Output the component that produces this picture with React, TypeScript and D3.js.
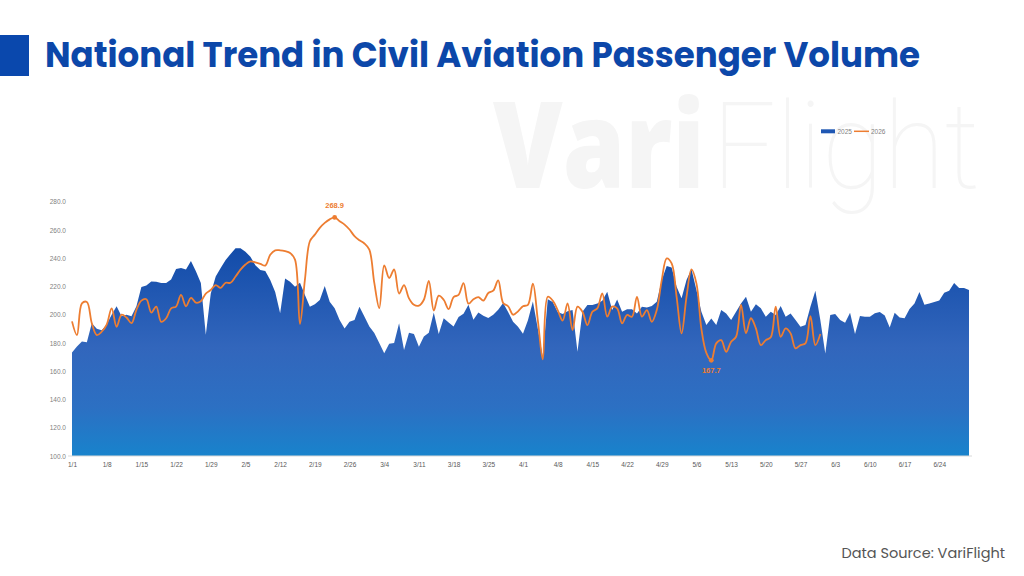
import React, { useRef, useEffect } from "react";
import * as d3 from "d3";

// Daily passenger volume (10k trips), Jan 1 – Jun 30
const volume2025 = [
  173.3, 177.5, 181, 180.6, 194, 190, 189, 193, 200, 206,
  199, 200, 199, 206, 219.6, 220.6, 223.6, 223.4, 222.5, 222.5,
  225, 232.4, 233, 232, 238, 230.7, 222.5, 185.8, 215, 227,
  233, 238.7, 243, 247, 247, 244.6, 241, 235, 231.6, 231,
  224.5, 216, 201, 225.7, 223.3, 219.8, 222.6, 214, 205.7, 207.5,
  210.4, 220.3, 209.2, 204.5, 196.2, 190.3, 195, 196.2, 205.7, 198.8,
  191.7, 187, 180, 172.8, 179.4, 180, 194, 175, 187.3, 186.4,
  177.4, 184.5, 187.3, 201.5, 186.4, 197.5, 194.5, 191.7, 198.3, 200.7,
  207, 196.5, 201.5, 199.3, 197.6, 200, 203.5, 208.3, 202, 195,
  191.5, 186.6, 196, 209.4, 190, 170, 211, 209, 202, 200.5,
  202.5, 203.3, 173.8, 202.1, 206.8, 206.8, 208, 209.9, 216.3, 203.3,
  210.8, 202.1, 203.8, 203.8, 200.9, 205.7, 205.2, 206.1, 209.2, 224.5,
  234.4, 233.5, 219.8, 211.6, 224.5, 232.1, 217.5, 202.1, 192.7, 197.4,
  192.7, 203.3, 200.9, 196.2, 202.1, 208, 212.7, 202.1, 207.5, 204.5,
  198.6, 202.1, 199.8, 206.1, 198.6, 200.9, 196.2, 191.5, 192.7, 205.7,
  217, 196.2, 172.6, 199.8, 200.5, 196.2, 194.3, 201.4, 186.3, 199.1,
  198.6, 198.6, 201, 202, 199.5, 191, 201.4, 198, 197.5, 204,
  208, 216, 207, 208, 209, 210, 215.5, 217, 222.4, 219,
  219, 217.5,
];

const volume2026 = [
  195.3, 185.6, 208, 209, 194, 185.6, 188, 193, 204.5, 191.5,
  200, 198, 194, 203.5, 210, 211, 201.5, 205.8, 195, 197.5,
  204.5, 205.8, 214, 206, 212, 208.5, 209.5, 215, 217.5, 221,
  219, 222.6, 222.6, 227, 231.9, 235.5, 237.8, 237, 236, 234.8,
  242.5, 245.6, 245.6, 245, 243.7, 239, 193.6, 224.8, 252, 256.7,
  261.5, 265, 267.5, 268.9, 266.2, 263.8, 260.3, 255.6, 252.7, 250.4,
  246, 222.5, 204.7, 235, 226, 232, 215, 221, 211.6, 207,
  206.4, 210.6, 224, 203, 213.5, 210.6, 204, 212.5, 214, 222.4,
  207.8, 211, 212.5, 210, 215.4, 217, 224.3, 208.3, 206, 200,
  202.4, 206, 207, 222, 196, 168.4, 212.7, 210, 203.3, 195.8,
  208, 189.2, 205.7, 202.1, 192.7, 202.1, 204.5, 215.1, 198.6, 205.7,
  204.5, 193.9, 199.8, 198.6, 212.7, 198.6, 203.3, 195, 203.3, 224.5,
  239.9, 236.3, 212.7, 186.8, 212.7, 232.1, 222.2, 190, 173, 167.7,
  179.7, 182, 173.8, 180.9, 184.4, 207, 187, 197.5, 190.3, 178.5,
  182, 184, 205.7, 184.4, 190.3, 186.8, 176.2, 178.5, 179.7, 199,
  178.5, 186.3,
];

const yTicks = [100, 120, 140, 160, 180, 200, 220, 240, 260, 280];

const xTickLabels = [
  "1/1", "1/8", "1/15", "1/22", "1/29", "2/5", "2/12", "2/19", "2/26",
  "3/4", "3/11", "3/18", "3/25", "4/1", "4/8", "4/15", "4/22", "4/29",
  "5/6", "5/13", "5/20", "5/27", "6/3", "6/10", "6/17", "6/24",
];

// category axis: Jan 1 – Jun 30 on a leap-year calendar (2/29 included)
const categories = d3
  .timeDay.range(new Date(2024, 0, 1), new Date(2024, 6, 1))
  .map(d3.timeFormat("%-m/%-d"));

const App = () => {
  const svgRef = useRef<SVGSVGElement>(null);

  useEffect(() => {
    const width = 1024;
    const height = 576;
    const plot = { left: 72, right: 969, top: 201.7, bottom: 456 };

    const svg = d3
      .select(svgRef.current)
      .attr("width", width)
      .attr("height", height)
      .style("background", "#fff");
    svg.selectAll("*").remove();

    // Watermark
    const wm = svg.append("g").attr("fill", "#f5f5f5");
    wm.append("text")
      .attr("x", 493)
      .attr("y", 188)
      .attr("textLength", 212)
      .attr("lengthAdjust", "spacingAndGlyphs")
      .style("font-family", "'Open Sans', 'DejaVu Sans', sans-serif")
      .style("font-weight", 800)
      .style("font-size", "120px")
      .text("Vari");
    wm.append("text")
      .attr("x", 712)
      .attr("y", 188)
      .attr("textLength", 268)
      .attr("lengthAdjust", "spacingAndGlyphs")
      .style("font-family", "Roboto, 'Open Sans', sans-serif")
      .style("font-weight", 100)
      .style("font-size", "120px")
      .text("Flight");

    // Title
    svg.append("rect")
      .attr("x", 0)
      .attr("y", 35)
      .attr("width", 29)
      .attr("height", 41)
      .attr("fill", "#0a48ad");
    svg.append("text")
      .attr("x", 45)
      .attr("y", 67)
      .attr("textLength", 875)
      .attr("lengthAdjust", "spacingAndGlyphs")
      .style("font-family", "Poppins, Inter, 'Open Sans', sans-serif")
      .style("font-weight", 700)
      .style("font-size", "35px")
      .style("fill", "#0c47a9")
      .text("National Trend in Civil Aviation Passenger Volume");

    // Scales
    const x = d3.scalePoint<string>().domain(categories).range([plot.left, plot.right]);
    const y = d3.scaleLinear().domain([100, 280]).range([plot.bottom, plot.top]);

    // Area gradient
    const defs = svg.append("defs");
    const grad = defs
      .append("linearGradient")
      .attr("id", "area2025")
      .attr("gradientUnits", "userSpaceOnUse")
      .attr("x1", 0)
      .attr("x2", 0)
      .attr("y1", 215)
      .attr("y2", plot.bottom);
    grad.append("stop").attr("offset", "0%").attr("stop-color", "#0843a3");
    grad.append("stop").attr("offset", "55%").attr("stop-color", "#3266bc");
    grad.append("stop").attr("offset", "80%").attr("stop-color", "#2c70c3");
    grad.append("stop").attr("offset", "100%").attr("stop-color", "#1883cc");

    // 2025 area
    const area = d3
      .area<number>()
      .x((_, i) => x(categories[i])!)
      .y0(y(100))
      .y1((d) => y(d));
    svg.append("path")
      .datum(volume2025)
      .attr("d", area)
      .attr("fill", "url(#area2025)");

    // Axes
    const xAxis = svg
      .append("g")
      .attr("transform", `translate(0,${plot.bottom})`)
      .call(d3.axisBottom(x).tickValues(xTickLabels).tickSize(0).tickPadding(6));
    xAxis.select(".domain").attr("stroke", "#d9d9d9").attr("d", `M${plot.left - 4},0H${plot.right + 3}`);
    xAxis
      .selectAll("text")
      .style("font-family", "'Liberation Sans', Arial, sans-serif")
      .style("font-size", "6.5px")
      .style("fill", "#595959");

    const yAxis = svg
      .append("g")
      .attr("transform", `translate(66,0)`)
      .call(d3.axisLeft(y).tickValues(yTicks).tickFormat(d3.format(".1f")).tickSize(0).tickPadding(0));
    yAxis.select(".domain").remove();
    yAxis
      .selectAll("text")
      .style("font-family", "'Liberation Sans', Arial, sans-serif")
      .style("font-size", "6.5px")
      .style("fill", "#7f7f7f");

    // 2026 smoothed line
    const line = d3
      .line<number>()
      .x((_, i) => x(categories[i])!)
      .y((d) => y(d))
      .curve(d3.curveCatmullRom.alpha(0.5));
    svg.append("path")
      .datum(volume2026)
      .attr("d", line)
      .attr("fill", "none")
      .attr("stroke", "#ed7d31")
      .attr("stroke-width", 1.8);

    // Max / min markers
    const maxI = d3.maxIndex(volume2026);
    const minI = d3.minIndex(volume2026);
    [
      { i: maxI, dy: -9 },
      { i: minI, dy: 13 },
    ].forEach(({ i, dy }) => {
      const cx = x(categories[i])!;
      const cy = y(volume2026[i]);
      svg.append("circle").attr("cx", cx).attr("cy", cy).attr("r", 2.4).attr("fill", "#ed7d31");
      svg.append("text")
        .attr("x", cx)
        .attr("y", cy + dy)
        .attr("text-anchor", "middle")
        .style("font-family", "'Liberation Sans', Arial, sans-serif")
        .style("font-size", "7.5px")
        .style("font-weight", 700)
        .style("fill", "#ed7d31")
        .text(d3.format(".1f")(volume2026[i]));
    });

    // Legend
    const legend = svg.append("g").attr("transform", "translate(821,131.3)");
    legend.append("rect").attr("x", 0).attr("y", -2).attr("width", 14).attr("height", 4).attr("fill", "#1f57b3");
    legend.append("text").attr("x", 16.5).attr("y", 2.3).text("2025");
    legend.append("line").attr("x1", 33).attr("x2", 48).attr("y1", 0).attr("y2", 0)
      .attr("stroke", "#ed7d31").attr("stroke-width", 1.5);
    legend.append("text").attr("x", 50).attr("y", 2.3).text("2026");
    legend
      .selectAll("text")
      .style("font-family", "'Liberation Sans', Arial, sans-serif")
      .style("font-size", "6.5px")
      .style("fill", "#7f7f7f");

    // Source note
    svg.append("text")
      .attr("x", 1005)
      .attr("y", 558)
      .attr("text-anchor", "end")
      .style("font-family", "Poppins, 'Open Sans', sans-serif")
      .style("font-size", "14.5px")
      .style("fill", "#555")
      .text("Data Source: VariFlight");
  }, []);

  return (
    <div style={{ position: "absolute", left: 0, top: 0 }}>
      <svg ref={svgRef}></svg>
    </div>
  );
};

export default App;
